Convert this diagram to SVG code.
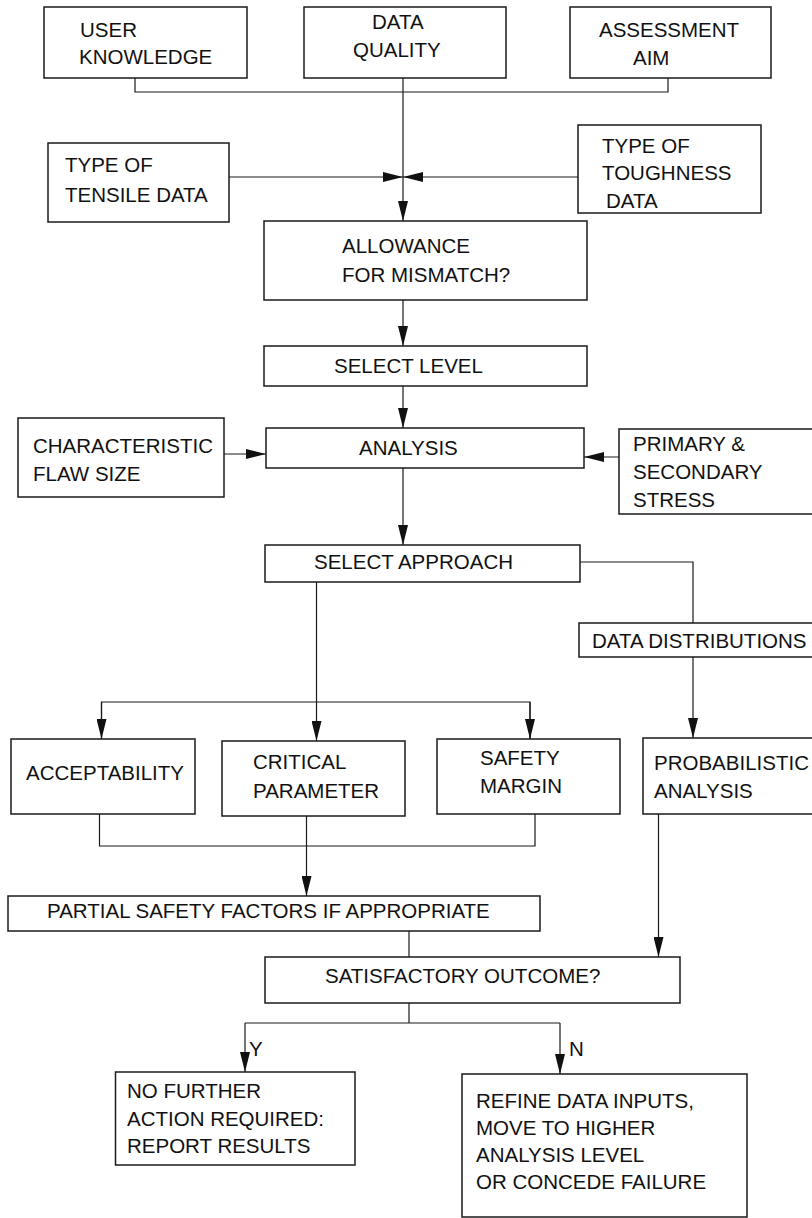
<svg xmlns="http://www.w3.org/2000/svg" width="812" height="1218" viewBox="0 0 812 1218">
<style>
.box{fill:#fff;stroke:#1a1a1a;stroke-width:1.5}
.t{font-family:"Liberation Sans",Arial,sans-serif;font-size:20.5px;fill:#111}
.c{fill:none;stroke:#1a1a1a;stroke-width:1.2}
</style>
<defs>
<marker id="ah" markerUnits="userSpaceOnUse" markerWidth="20" markerHeight="10" refX="20" refY="5" orient="auto">
<path d="M0,0 L20,5 L0,10 z" fill="#111"/>
</marker>
</defs>
<rect width="812" height="1218" fill="#fff"/>
<g id="connectors">
<path class="c" d="M135,78 V92 H668 V78"/>
<path class="c" d="M403,78 V221" marker-end="url(#ah)"/>
<path class="c" d="M229,177 H403" marker-end="url(#ah)"/>
<path class="c" d="M578,177 H403" marker-end="url(#ah)"/>
<path class="c" d="M403,300 V346" marker-end="url(#ah)"/>
<path class="c" d="M403,386 V428" marker-end="url(#ah)"/>
<path class="c" d="M224,454 H266" marker-end="url(#ah)"/>
<path class="c" d="M619,457 H584" marker-end="url(#ah)"/>
<path class="c" d="M403,468 V545" marker-end="url(#ah)"/>
<path class="c" d="M580,562 H693 V623"/>
<path class="c" d="M693,657 V738" marker-end="url(#ah)"/>
<path class="c" d="M316.5,582 V741" marker-end="url(#ah)"/>
<path class="c" d="M101.5,739 V702 H530 V739"/>
<path class="c" d="M101.5,702 V739" marker-end="url(#ah)"/>
<path class="c" d="M530,702 V739" marker-end="url(#ah)"/>
<path class="c" d="M99.5,814 V846 H535 V814"/>
<path class="c" d="M306.5,816 V896" marker-end="url(#ah)"/>
<path class="c" d="M658.5,814 V957" marker-end="url(#ah)"/>
<path class="c" d="M409,931 V957"/>
<path class="c" d="M409,1003 V1023"/>
<path class="c" d="M245,1023 H560"/>
<path class="c" d="M245,1023 V1072" marker-end="url(#ah)"/>
<path class="c" d="M560,1023 V1074" marker-end="url(#ah)"/>
<text class="t" x="249" y="1056">Y</text>
<text class="t" x="569" y="1056">N</text>
</g>
<g id="user-knowledge"><rect class="box" x="44" y="7" width="203" height="71"/><text class="t" x="80" y="37">USER</text><text class="t" x="79" y="64">KNOWLEDGE</text></g>
<g id="data-quality"><rect class="box" x="304" y="7" width="202" height="71"/><text class="t" x="372" y="29">DATA</text><text class="t" x="353" y="57">QUALITY</text></g>
<g id="assessment-aim"><rect class="box" x="570" y="7" width="201" height="71"/><text class="t" x="599" y="37">ASSESSMENT</text><text class="t" x="633" y="65">AIM</text></g>
<g id="tensile"><rect class="box" x="48" y="143" width="181" height="79"/><text class="t" x="65" y="172">TYPE OF</text><text class="t" x="65" y="202">TENSILE DATA</text></g>
<g id="toughness"><rect class="box" x="578" y="125" width="183" height="88"/><text class="t" x="602" y="153">TYPE OF</text><text class="t" x="602" y="180">TOUGHNESS</text><text class="t" x="606" y="208">DATA</text></g>
<g id="allowance"><rect class="box" x="264" y="221" width="323" height="79"/><text class="t" x="342" y="253">ALLOWANCE</text><text class="t" x="342" y="282">FOR MISMATCH?</text></g>
<g id="select-level"><rect class="box" x="264" y="346" width="323" height="40"/><text class="t" x="334" y="373">SELECT LEVEL</text></g>
<g id="characteristic"><rect class="box" x="18" y="418" width="206" height="79"/><text class="t" x="33" y="453">CHARACTERISTIC</text><text class="t" x="33" y="481">FLAW SIZE</text></g>
<g id="analysis"><rect class="box" x="266" y="428" width="318" height="40"/><text class="t" x="359" y="455">ANALYSIS</text></g>
<g id="primary"><rect class="box" x="619" y="429" width="196" height="85"/><text class="t" x="633" y="451">PRIMARY &amp;</text><text class="t" x="633" y="479">SECONDARY</text><text class="t" x="633" y="507">STRESS</text></g>
<g id="select-approach"><rect class="box" x="265" y="545" width="315" height="37"/><text class="t" x="314" y="569">SELECT APPROACH</text></g>
<g id="data-distributions"><rect class="box" x="579" y="623" width="236" height="34"/><text class="t" x="592" y="648">DATA DISTRIBUTIONS</text></g>
<g id="acceptability"><rect class="box" x="11" y="739" width="184" height="75"/><text class="t" x="26" y="780">ACCEPTABILITY</text></g>
<g id="critical-parameter"><rect class="box" x="222" y="741" width="183" height="75"/><text class="t" x="253" y="769">CRITICAL</text><text class="t" x="253" y="798">PARAMETER</text></g>
<g id="safety-margin"><rect class="box" x="437" y="739" width="183" height="75"/><text class="t" x="480" y="765">SAFETY</text><text class="t" x="480" y="793">MARGIN</text></g>
<g id="probabilistic"><rect class="box" x="643" y="738" width="172" height="76"/><text class="t" x="654" y="770">PROBABILISTIC</text><text class="t" x="654" y="798">ANALYSIS</text></g>
<g id="partial"><rect class="box" x="8" y="896" width="532" height="35"/><text class="t" x="47" y="918">PARTIAL SAFETY FACTORS IF APPROPRIATE</text></g>
<g id="satisfactory"><rect class="box" x="265" y="957" width="415" height="46"/><text class="t" x="325" y="983">SATISFACTORY OUTCOME?</text></g>
<g id="no-further"><rect class="box" x="115.5" y="1072" width="239.5" height="93"/><text class="t" x="127" y="1098">NO FURTHER</text><text class="t" x="127" y="1126">ACTION REQUIRED:</text><text class="t" x="127" y="1153">REPORT RESULTS</text></g>
<g id="refine"><rect class="box" x="462" y="1074" width="285" height="143"/><text class="t" x="476" y="1108">REFINE DATA INPUTS,</text><text class="t" x="476" y="1135">MOVE TO HIGHER</text><text class="t" x="476" y="1162">ANALYSIS LEVEL</text><text class="t" x="476" y="1189">OR CONCEDE FAILURE</text></g>
</svg>
